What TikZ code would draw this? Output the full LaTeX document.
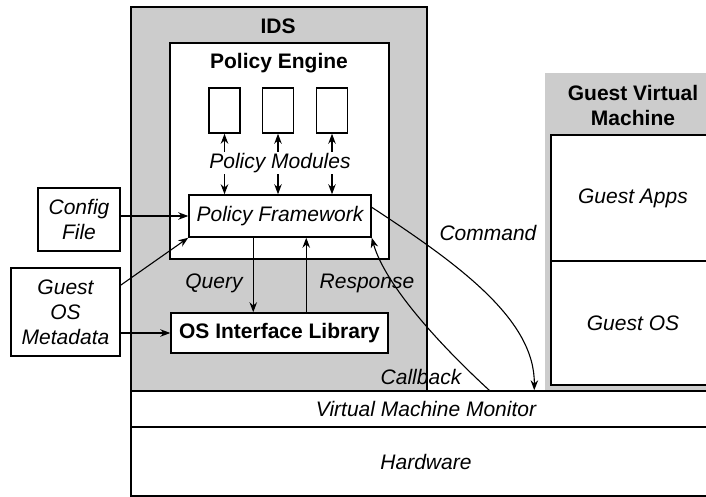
\documentclass[tikz,border=0pt]{standalone}
\usepackage{fontspec}
\setmainfont{Liberation Sans}
\usetikzlibrary{arrows.meta,calc}
\definecolor{idsgray}{RGB}{204,204,204}
\begin{document}
\begin{tikzpicture}[x=1pt,y=-1pt,
  box/.style={draw, line width=1.5pt, inner sep=0pt, align=center},
  it/.style={font=\fontsize{21}{25}\selectfont\itshape, align=center},
  bf/.style={font=\fontsize{21}{25}\selectfont\bfseries, align=center},
  arr/.style={line width=1.1pt, -{Stealth[length=10pt,width=7.5pt]}},
  dbl/.style={line width=1.1pt, {Stealth[length=10pt,width=7.5pt]}-{Stealth[length=10pt,width=7.5pt]}}]
\useasboundingbox (0,0) rectangle (706,497);
\clip (0,0) rectangle (706,497);
% guest VM
\node[fill=idsgray, minimum width=176pt, minimum height=318pt, inner sep=0pt] (gvm) at (633,232) {};
\node[bf] (gvmt) at (633,105) {Guest Virtual\\Machine};
\node[box, it, fill=white, minimum width=164pt, minimum height=126pt] (apps) at (633,198) {Guest Apps};
\node[box, it, fill=white, minimum width=164pt, minimum height=124pt] (gos) at (633,323) {Guest OS};
% IDS
\node[box, fill=idsgray, minimum width=296pt, minimum height=384pt] (ids) at (279,199) {};
\node[bf] (idst) at (278,26) {IDS};
\node[box, fill=white, minimum width=219pt, minimum height=216pt] (pe) at (279.5,151) {};
\node[bf] (pet) at (279,63) {Policy Engine};
\foreach \n/\x in {m1/224.5, m2/278, m3/332}
  \node[box, minimum width=31pt, minimum height=45pt] (\n) at (\x,110.5) {};
\node[box, it, fill=white, minimum width=182pt, minimum height=42pt] (pf) at (280,216) {Policy Framework};
\node[box, bf, fill=white, minimum width=217pt, minimum height=40pt] (osil) at (279.5,333) {OS Interface Library};
% inputs
\node[box, it, fill=white, minimum width=82pt, minimum height=63pt] (cfg) at (79,219.5) {Config\\File};
\node[box, it, fill=white, minimum width=109pt, minimum height=88pt] (meta) at (65.5,312) {Guest\\OS\\Metadata};
% layers
\node[box, it, fill=white, minimum width=590pt, minimum height=36pt] (vmm) at (426,409) {Virtual Machine Monitor};
\node[box, it, fill=white, minimum width=590pt, minimum height=69pt] (hw) at (426,461.5) {Hardware};
% module arrows
\foreach \n in {m1,m2,m3}
  \draw[dbl] (\n.south) -- (\n.south |- pf.north);
\node[it, fill=white, inner sep=1pt] (pm) at (280,163) {Policy Modules};
% input arrows
\draw[arr] (cfg.east |- pf.west) -- (pf.west);
\draw[arr] ($(meta.north east)!0.2!(meta.south east)$) -- (pf.south west);
\draw[arr] (meta.east |- osil.west) -- (osil.west);
% query / response
\coordinate (q1) at ($(pf.south west)+(65,0)$);
\coordinate (q2) at ($(pf.south west)+(118,0)$);
\draw[arr] (q1) -- (q1 |- osil.north);
\draw[arr] (q2 |- osil.north) -- (q2);
\node[it] (ql) at (214,283) {Query};
\node[it] (rl) at (367,283) {Response};
% command / callback
\coordinate (cmdend) at ($(vmm.north west)+(404,0)$);
\coordinate (cbstart) at ($(vmm.north west)+(359,0)$);
\draw[arr] ($(pf.north east)!0.3!(pf.south east)$) .. controls (460,265) and (535,320) .. (cmdend);
\draw[arr] (cbstart) .. controls (440,345) and (385,285) .. (pf.south east);
\node[it] (cl) at (488,233) {Command};
\node[it] (cb) at (421,377) {Callback};
\end{tikzpicture}
\end{document}
